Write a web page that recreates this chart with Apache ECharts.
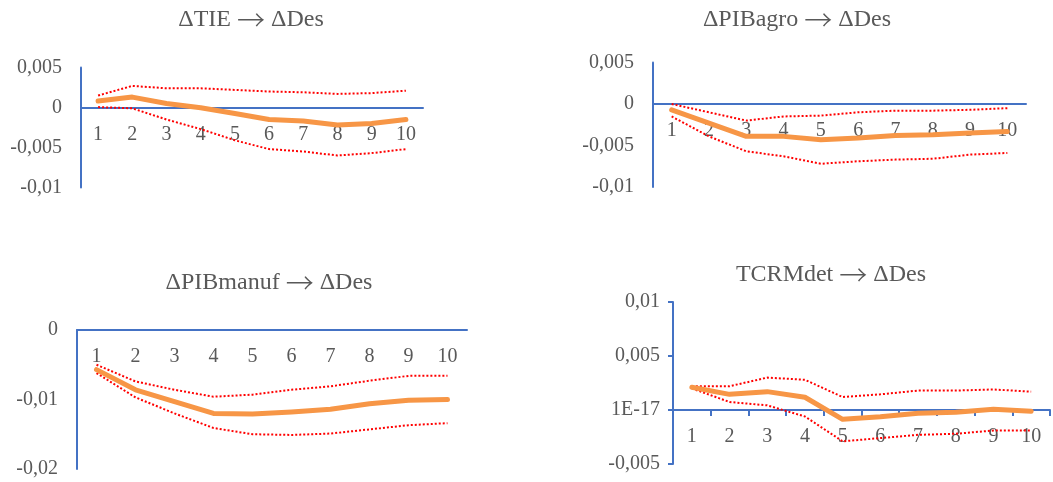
<!DOCTYPE html>
<html>
<head>
<meta charset="utf-8">
<script src="https://cdn.jsdelivr.net/npm/echarts@6/dist/echarts.min.js"></script>
<style>html,body{margin:0;padding:0;background:#fff}#c{width:1053px;height:482px}</style>
</head>
<body>
<div id="c"></div>
<script>
var categories = ['1','2','3','4','5','6','7','8','9','10'];
var titleLeft = ['\u0394TIE', '\u0394PIBagro', '\u0394PIBmanuf', 'TCRMdet'];
var titleRight = '\u0394Des';
var arrow = '\u2192';

var yTicks1 = ['-0,01', '-0,005', '0', '0,005'];
var yTicks2 = ['-0,01', '-0,005', '0', '0,005'];
var yTicks3 = ['-0,02', '-0,01', '0'];
var yTicks4 = ['-0,005', '1E-17', '0,005', '0,01'];

var irf1   = [0.0008, 0.0013, 0.0005, -0.00004, -0.00075, -0.0015, -0.0017, -0.0022, -0.0020, -0.0015];
var upper1 = [0.0015, 0.0027, 0.0024, 0.0024, 0.0022, 0.0020, 0.0019, 0.0017, 0.0018, 0.0021];
var lower1 = [0.00005, -0.0001, -0.0015, -0.0027, -0.0041, -0.0052, -0.0055, -0.0060, -0.0057, -0.0052];

var irf2   = [-0.0007, -0.0023, -0.0039, -0.0039, -0.0043, -0.0041, -0.0038, -0.0037, -0.0035, -0.0033];
var upper2 = [0.0000, -0.0010, -0.0020, -0.0015, -0.0014, -0.0010, -0.0008, -0.0008, -0.0007, -0.0005];
var lower2 = [-0.0015, -0.0039, -0.0057, -0.0063, -0.0072, -0.0069, -0.0067, -0.0066, -0.0061, -0.0059];

var irf3   = [-0.0057, -0.0086, -0.0103, -0.0120, -0.0121, -0.0118, -0.0114, -0.0106, -0.0101, -0.0100];
var upper3 = [-0.0050, -0.0074, -0.0086, -0.0096, -0.0093, -0.0086, -0.0081, -0.0073, -0.0066, -0.0066];
var lower3 = [-0.0062, -0.0097, -0.0120, -0.0141, -0.0150, -0.0151, -0.0149, -0.0143, -0.0137, -0.0134];

var irf4   = [0.0021, 0.00145, 0.0017, 0.00118, -0.00086, -0.00062, -0.0003, -0.0002, 0.00006, -0.00012];
var upper4 = [0.0022, 0.0022, 0.0030, 0.0028, 0.0012, 0.00145, 0.0018, 0.0018, 0.0019, 0.0017];
var lower4 = [0.0020, 0.00074, 0.00043, -0.0006, -0.0029, -0.0026, -0.0023, -0.0022, -0.0019, -0.0019];

var FONT = 'Liberation Serif';
var TXT = '#595959';
var BLUE = '#4472C4';
var ORANGE = '#F79646';
var RED = '#FF0000';

var grids = [
  {left: 81, top: 67.5, width: 342, height: 120},
  {left: 653, top: 62.5, width: 373, height: 124.5},
  {left: 77, top: 330, width: 390, height: 139},
  {left: 673, top: 302, width: 377, height: 162}
];
var yCfg = [
  {min: -0.01, max: 0.005, interval: 0.005, ticks: yTicks1},
  {min: -0.01, max: 0.005, interval: 0.005, ticks: yTicks2},
  {min: -0.02, max: 0, interval: 0.01, ticks: yTicks3},
  {min: -0.005, max: 0.01, interval: 0.005, ticks: yTicks4}
];
var titlePos = [[251, 20], [797, 20], [269, 283], [831, 275]];
var data = [[irf1, upper1, lower1], [irf2, upper2, lower2], [irf3, upper3, lower3], [irf4, upper4, lower4]];

var xAxes = [], yAxes = [], series = [], graphics = [];
for (var i = 0; i < 4; i++) {
  var withTicks = (i === 3);
  var cfg = yCfg[i];
  // place the category axis on the zero line of the value axis
  var zeroOffset = -grids[i].height * (0 - cfg.min) / (cfg.max - cfg.min);
  xAxes.push({
    type: 'category', gridIndex: i, data: categories, boundaryGap: true, position: 'bottom',
    offset: zeroOffset,
    axisLine: {show: true, onZero: false, lineStyle: {color: BLUE, width: 2}},
    axisTick: {show: withTicks, length: 6, lineStyle: {color: BLUE, width: 2}},
    axisLabel: {color: TXT, fontFamily: FONT, fontSize: 20, margin: 17, interval: 0},
    splitLine: {show: false}
  });
  (function (cfg) {
    yAxes.push({
      type: 'value', gridIndex: i, min: cfg.min, max: cfg.max, interval: cfg.interval,
      axisLine: {show: true, lineStyle: {color: BLUE, width: 2}},
      axisTick: {show: withTicks, length: 5, lineStyle: {color: BLUE, width: 2}},
      axisLabel: {
        color: TXT, fontFamily: FONT, fontSize: 20, margin: withTicks ? 13 : 19,
        formatter: function (v) {
          var k = Math.round((v - cfg.min) / cfg.interval);
          return cfg.ticks[k] !== undefined ? cfg.ticks[k] : '';
        }
      },
      splitLine: {show: false}
    });
  })(cfg);
  series.push({
    type: 'line', xAxisIndex: i, yAxisIndex: i, data: data[i][1], symbol: 'none',
    lineStyle: {color: RED, width: 2, type: [2, 2]}, silent: true, z: 2
  });
  series.push({
    type: 'line', xAxisIndex: i, yAxisIndex: i, data: data[i][2], symbol: 'none',
    lineStyle: {color: RED, width: 2, type: [2, 2]}, silent: true, z: 2
  });
  series.push({
    type: 'line', xAxisIndex: i, yAxisIndex: i, data: data[i][0], symbol: 'none',
    lineStyle: {color: ORANGE, width: 5, join: 'round', cap: 'round'}, silent: true, z: 3
  });
  graphics.push({
    type: 'text', x: titlePos[i][0], y: titlePos[i][1],
    style: {
      text: '{t|' + titleLeft[i] + ' }{a|' + arrow + '}{t| ' + titleRight + '}',
      rich: {
        t: {fill: TXT, fontFamily: FONT, fontSize: 24},
        a: {fill: TXT, fontFamily: 'Noto Sans CJK JP', fontSize: 28, fontWeight: 200}
      },
      textAlign: 'center', textVerticalAlign: 'middle'
    }
  });
}

var chart = echarts.init(document.getElementById('c'), null, {renderer: 'canvas'});
chart.setOption({
  animation: false,
  backgroundColor: '#ffffff',
  grid: grids,
  xAxis: xAxes,
  yAxis: yAxes,
  series: series,
  graphic: graphics
});
</script>
</body>
</html>
